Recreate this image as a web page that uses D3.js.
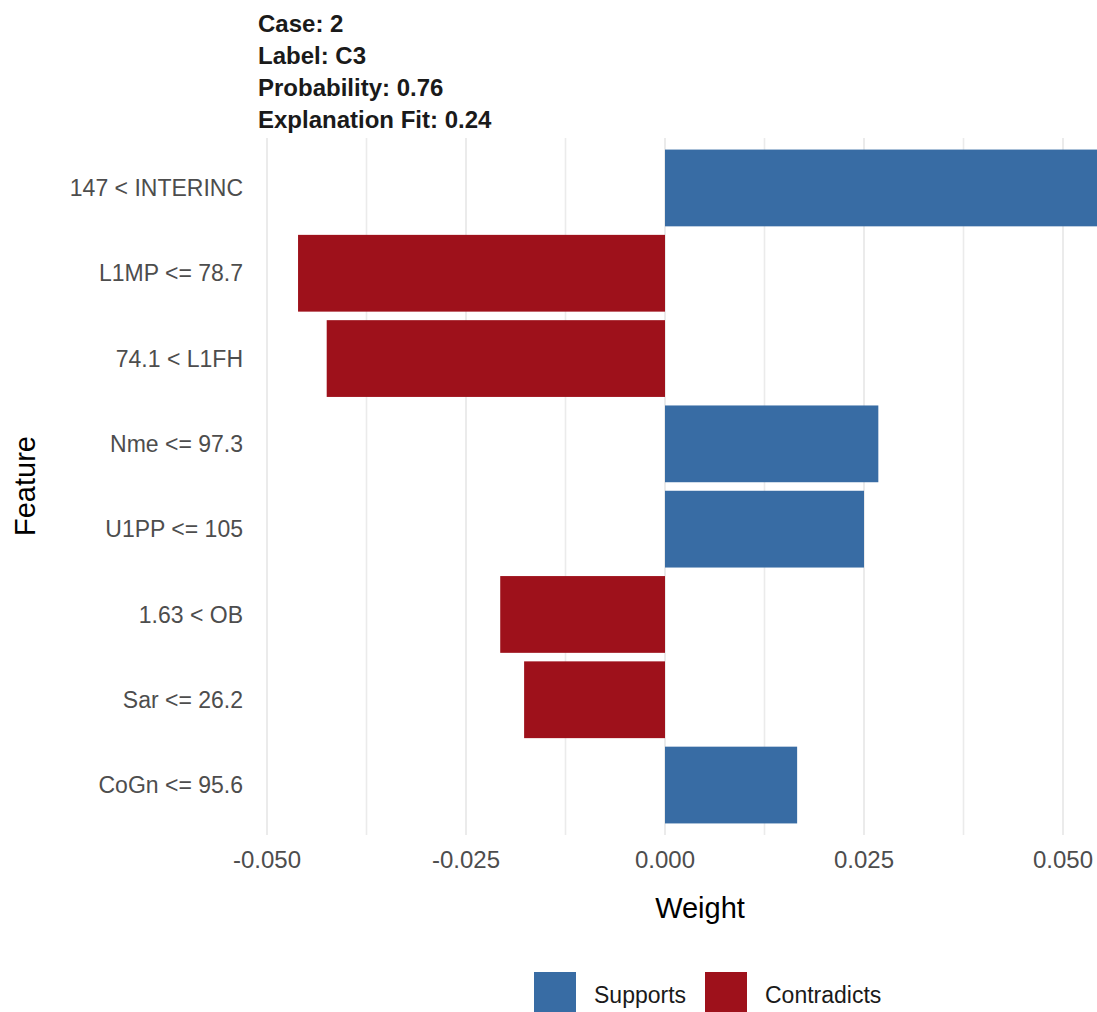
<!DOCTYPE html>
<html>
<head>
<meta charset="utf-8">
<script src="https://cdn.jsdelivr.net/npm/d3@7"></script>
<style>
  body { margin: 0; background: #fff; }
  text { font-family: "Liberation Sans", Arial, sans-serif; }
</style>
</head>
<body>
<svg id="chart" width="1097" height="1012"></svg>
<script>
const titleLines = ["Case: 2", "Label: C3", "Probability: 0.76", "Explanation Fit: 0.24"];
const features = ["147 < INTERINC", "L1MP <= 78.7", "74.1 < L1FH", "Nme <= 97.3",
                  "U1PP <= 105", "1.63 < OB", "Sar <= 26.2", "CoGn <= 95.6"];
const weights = [0.0543, -0.0461, -0.0425, 0.0268, 0.0250, -0.0207, -0.0177, 0.0166];
const majorTicks = [-0.05, -0.025, 0, 0.025, 0.05];
const minorTicks = [-0.0375, -0.0125, 0.0125, 0.0375];
const legendKeys = ["Supports", "Contradicts"];
const colors = { Supports: "#386ca4", Contradicts: "#9e111b" };

const svg = d3.select("#chart");
const panel = { top: 138, bottom: 835 };

const x = d3.scaleLinear().domain([-0.05, 0.05]).range([267, 1063]);
const y = d3.scaleBand().domain(features)
  .range([145.3, 827.7]).paddingInner(0.1).paddingOuter(0.05);

// grid
svg.append("g").selectAll("line")
  .data(majorTicks.concat(minorTicks))
  .enter().append("line")
  .attr("x1", d => x(d)).attr("x2", d => x(d))
  .attr("y1", panel.top).attr("y2", panel.bottom)
  .attr("stroke", "#ebebeb")
  .attr("stroke-width", d => majorTicks.includes(d) ? 2 : 1.6);

// bars
svg.append("g").selectAll("rect")
  .data(features)
  .enter().append("rect")
  .attr("x", (d, i) => x(Math.min(0, weights[i])))
  .attr("width", (d, i) => Math.abs(x(weights[i]) - x(0)))
  .attr("y", d => y(d))
  .attr("height", y.bandwidth())
  .attr("fill", (d, i) => weights[i] >= 0 ? colors.Supports : colors.Contradicts);

// y axis labels
svg.append("g").selectAll("text")
  .data(features)
  .enter().append("text")
  .attr("x", 243)
  .attr("y", d => y(d) + y.bandwidth() / 2)
  .attr("dy", "0.35em")
  .attr("text-anchor", "end")
  .attr("font-size", 23)
  .attr("fill", "#4d4d4d")
  .text(d => d);

// x axis labels
svg.append("g").selectAll("text")
  .data(majorTicks)
  .enter().append("text")
  .attr("x", d => x(d))
  .attr("y", 868)
  .attr("text-anchor", "middle")
  .attr("font-size", 24)
  .attr("fill", "#4d4d4d")
  .text(d => d3.format(".3f")(d).replace("−", "-"));

svg.append("text")
  .attr("x", 700).attr("y", 918)
  .attr("text-anchor", "middle")
  .attr("font-size", 29)
  .attr("fill", "#000")
  .text("Weight");

svg.append("text")
  .attr("transform", "translate(35,486) rotate(-90)")
  .attr("text-anchor", "middle")
  .attr("font-size", 29)
  .attr("fill", "#000")
  .text("Feature");

// title
svg.append("g").selectAll("text")
  .data(titleLines)
  .enter().append("text")
  .attr("x", 258)
  .attr("y", (d, i) => 31.5 + i * 32.2)
  .attr("font-size", 24)
  .attr("font-weight", "bold")
  .attr("fill", "#1a1a1a")
  .text(d => d);

// legend
const legendX = [534, 705];
const lg = svg.append("g").selectAll("g")
  .data(legendKeys)
  .enter().append("g")
  .attr("transform", (d, i) => `translate(${legendX[i]},972)`);
lg.append("rect")
  .attr("width", 42).attr("height", 42)
  .attr("fill", d => colors[d]);
lg.append("text")
  .attr("x", 60).attr("y", 31)
  .attr("font-size", 23)
  .attr("fill", "#1a1a1a")
  .text(d => d);
</script>
</body>
</html>
